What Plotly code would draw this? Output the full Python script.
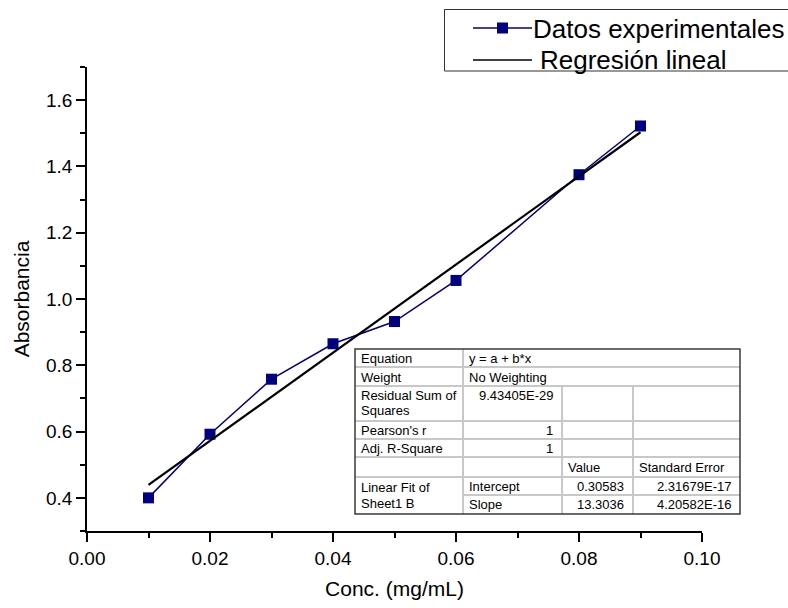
import plotly.graph_objects as go

# Calibration data: concentration (mg/mL) vs absorbance
conc = [0.01, 0.02, 0.03, 0.04, 0.05, 0.06, 0.08, 0.09]
absorb = [0.400, 0.592, 0.758, 0.865, 0.932, 1.056, 1.375, 1.522]

# Linear fit parameters (y = a + b*x)
intercept = 0.30583
slope = 13.3036
fit_x = [0.01, 0.09]
fit_y = [intercept + slope * x for x in fit_x]

x_ticks = [0.00, 0.02, 0.04, 0.06, 0.08, 0.10]
y_ticks = [0.4, 0.6, 0.8, 1.0, 1.2, 1.4, 1.6]

series_names = ["Datos experimentales", "Regresión lineal"]

# Fit report table contents
tbl_labels = ["Equation", "Weight", "Residual Sum of", "Squares", "Pearson's r",
              "Adj. R-Square", "Linear Fit of", "Sheet1 B"]
tbl_equation = "y = a + b*x"
tbl_weight = "No Weighting"
tbl_rss = "9.43405E-29"
tbl_pearson = "1"
tbl_adj_r2 = "1"
tbl_headers = ["Value", "Standard Error"]
tbl_params = ["Intercept", "Slope"]
tbl_values = ["0.30583", "13.3036"]
tbl_errors = ["2.31679E-17", "4.20582E-16"]

NAVY = "#000080"
FONT = "Arial, Liberation Sans, sans-serif"

W, H = 788, 608
ML, MR, MT, MB = 87, 86, 67, 77
PW, PH = W - ML - MR, H - MT - MB


def px(x):
    return (x - ML) / PW


def py(y):
    return (H - MB - y) / PH


fig = go.Figure()

fig.add_trace(go.Scatter(
    x=conc, y=absorb, mode="lines+markers", name=series_names[0],
    line=dict(color=NAVY, width=1.5),
    marker=dict(symbol="square", size=11, color=NAVY),
    showlegend=False,
))
fig.add_trace(go.Scatter(
    x=fit_x, y=fit_y, mode="lines", name=series_names[1],
    line=dict(color="black", width=2.2),
    showlegend=False,
))

shapes = []
annotations = []

# ---- legend box ----
shapes.append(dict(type="rect", xref="paper", yref="paper",
                   x0=px(444.5), x1=px(800), y0=py(71), y1=py(9.5),
                   line=dict(color="#333333", width=1), fillcolor="white", layer="above"))
shapes.append(dict(type="line", xref="paper", yref="paper",
                   x0=px(473), x1=px(532), y0=py(28), y1=py(28),
                   line=dict(color=NAVY, width=1.5), layer="above"))
shapes.append(dict(type="rect", xref="paper", yref="paper",
                   x0=px(497), x1=px(508), y0=py(33.5), y1=py(22.5),
                   line=dict(color=NAVY, width=0), fillcolor=NAVY, layer="above"))
shapes.append(dict(type="line", xref="paper", yref="paper",
                   x0=px(473), x1=px(532), y0=py(60), y1=py(60),
                   line=dict(color="black", width=1.5), layer="above"))
annotations.append(dict(text=series_names[0], xref="paper", yref="paper",
                        x=px(531), y=py(29), xanchor="left", yanchor="middle",
                        showarrow=False, font=dict(family=FONT, size=26, color="black")))
annotations.append(dict(text=series_names[1], xref="paper", yref="paper",
                        x=px(538), y=py(60), xanchor="left", yanchor="middle",
                        showarrow=False, font=dict(family=FONT, size=26, color="black")))

# ---- fit report table ----
cols = [355, 463, 562, 633, 740]
rows = [349, 367, 386, 421, 439, 457, 477, 495, 514]
GRID = "#c8c8c8"

shapes.append(dict(type="rect", xref="paper", yref="paper",
                   x0=px(cols[0]), x1=px(cols[-1]), y0=py(rows[-1]), y1=py(rows[0]),
                   line=dict(width=0), fillcolor="white", layer="above"))
for r in rows[1:7]:
    shapes.append(dict(type="line", xref="paper", yref="paper",
                       x0=px(cols[0]), x1=px(cols[-1]), y0=py(r), y1=py(r),
                       line=dict(color=GRID, width=2), layer="above"))
shapes.append(dict(type="line", xref="paper", yref="paper",
                   x0=px(cols[1]), x1=px(cols[-1]), y0=py(rows[7]), y1=py(rows[7]),
                   line=dict(color=GRID, width=2), layer="above"))
shapes.append(dict(type="line", xref="paper", yref="paper",
                   x0=px(cols[1]), x1=px(cols[1]), y0=py(rows[0]), y1=py(rows[-1]),
                   line=dict(color=GRID, width=2), layer="above"))
for c in cols[2:4]:
    shapes.append(dict(type="line", xref="paper", yref="paper",
                       x0=px(c), x1=px(c), y0=py(rows[2]), y1=py(rows[-1]),
                       line=dict(color=GRID, width=2), layer="above"))
shapes.append(dict(type="rect", xref="paper", yref="paper",
                   x0=px(cols[0]), x1=px(cols[-1]), y0=py(rows[-1]), y1=py(rows[0]),
                   line=dict(color="#3a3a3a", width=1.5), layer="above"))


def cell_text(text, x, y, anchor):
    annotations.append(dict(text=text, xref="paper", yref="paper",
                            x=px(x), y=py(y), xanchor=anchor, yanchor="middle",
                            showarrow=False,
                            font=dict(family=FONT, size=13, color="black")))


def mid(i):
    return (rows[i] + rows[i + 1]) / 2 + 0.5


left_pad, right_pad = 4, 7
# column 0 labels
cell_text(tbl_labels[0], cols[0] + left_pad, mid(0), "left")
cell_text(tbl_labels[1], cols[0] + left_pad, mid(1), "left")
cell_text(tbl_labels[2], cols[0] + left_pad, 395.7, "left")
cell_text(tbl_labels[3], cols[0] + left_pad, 410.7, "left")
cell_text(tbl_labels[4], cols[0] + left_pad, mid(3), "left")
cell_text(tbl_labels[5], cols[0] + left_pad, mid(4), "left")
cell_text(tbl_labels[6], cols[0] + left_pad, 487.3, "left")
cell_text(tbl_labels[7], cols[0] + left_pad, 503.3, "left")
# column 1
cell_text(tbl_equation, cols[1] + left_pad, mid(0), "left")
cell_text(tbl_weight, cols[1] + left_pad, mid(1), "left")
cell_text(tbl_rss, cols[2] - right_pad, 395.7, "right")
cell_text(tbl_pearson, cols[2] - right_pad, mid(3), "right")
cell_text(tbl_adj_r2, cols[2] - right_pad, mid(4), "right")
cell_text(tbl_params[0], cols[1] + left_pad, mid(6), "left")
cell_text(tbl_params[1], cols[1] + left_pad, mid(7) - 1, "left")
# headers
cell_text(tbl_headers[0], cols[2] + left_pad, mid(5), "left")
cell_text(tbl_headers[1], cols[3] + left_pad, mid(5), "left")
# values and errors
cell_text(tbl_values[0], cols[3] - right_pad, mid(6), "right")
cell_text(tbl_values[1], cols[3] - right_pad, mid(7) - 1, "right")
cell_text(tbl_errors[0], cols[4] - right_pad, mid(6), "right")
cell_text(tbl_errors[1], cols[4] - right_pad, mid(7) - 1, "right")

axis_common = dict(
    showgrid=False, zeroline=False, showline=True, linecolor="black", linewidth=1.6,
    ticks="outside", ticklen=9, tickwidth=1.6, tickcolor="black",
    tickfont=dict(family=FONT, size=19, color="black"),
    mirror=False,
)

fig.update_layout(
    width=W, height=H,
    margin=dict(l=ML, r=MR, t=MT, b=MB, autoexpand=False),
    paper_bgcolor="white", plot_bgcolor="white",
    showlegend=False,
    font=dict(family=FONT, color="black"),
    xaxis=dict(
        range=[0, 0.1], tickvals=x_ticks, ticktext=[f"{v:.2f}" for v in x_ticks],
        minor=dict(dtick=0.01, tick0=0, ticks="outside", ticklen=5, tickwidth=1.6,
                   tickcolor="black", showgrid=False),
        title=dict(text="Conc. (mg/mL)", font=dict(family=FONT, size=21), standoff=14),
        **axis_common,
    ),
    yaxis=dict(
        range=[0.3, 1.7], tickvals=y_ticks, ticktext=[f"{v:.1f}" for v in y_ticks],
        minor=dict(dtick=0.1, tick0=0, ticks="outside", ticklen=5, tickwidth=1.6,
                   tickcolor="black", showgrid=False),
        title=dict(text="Absorbancia", font=dict(family=FONT, size=21), standoff=11),
        **axis_common,
    ),
    shapes=shapes,
    annotations=annotations,
)

fig.write_html("out.html")
